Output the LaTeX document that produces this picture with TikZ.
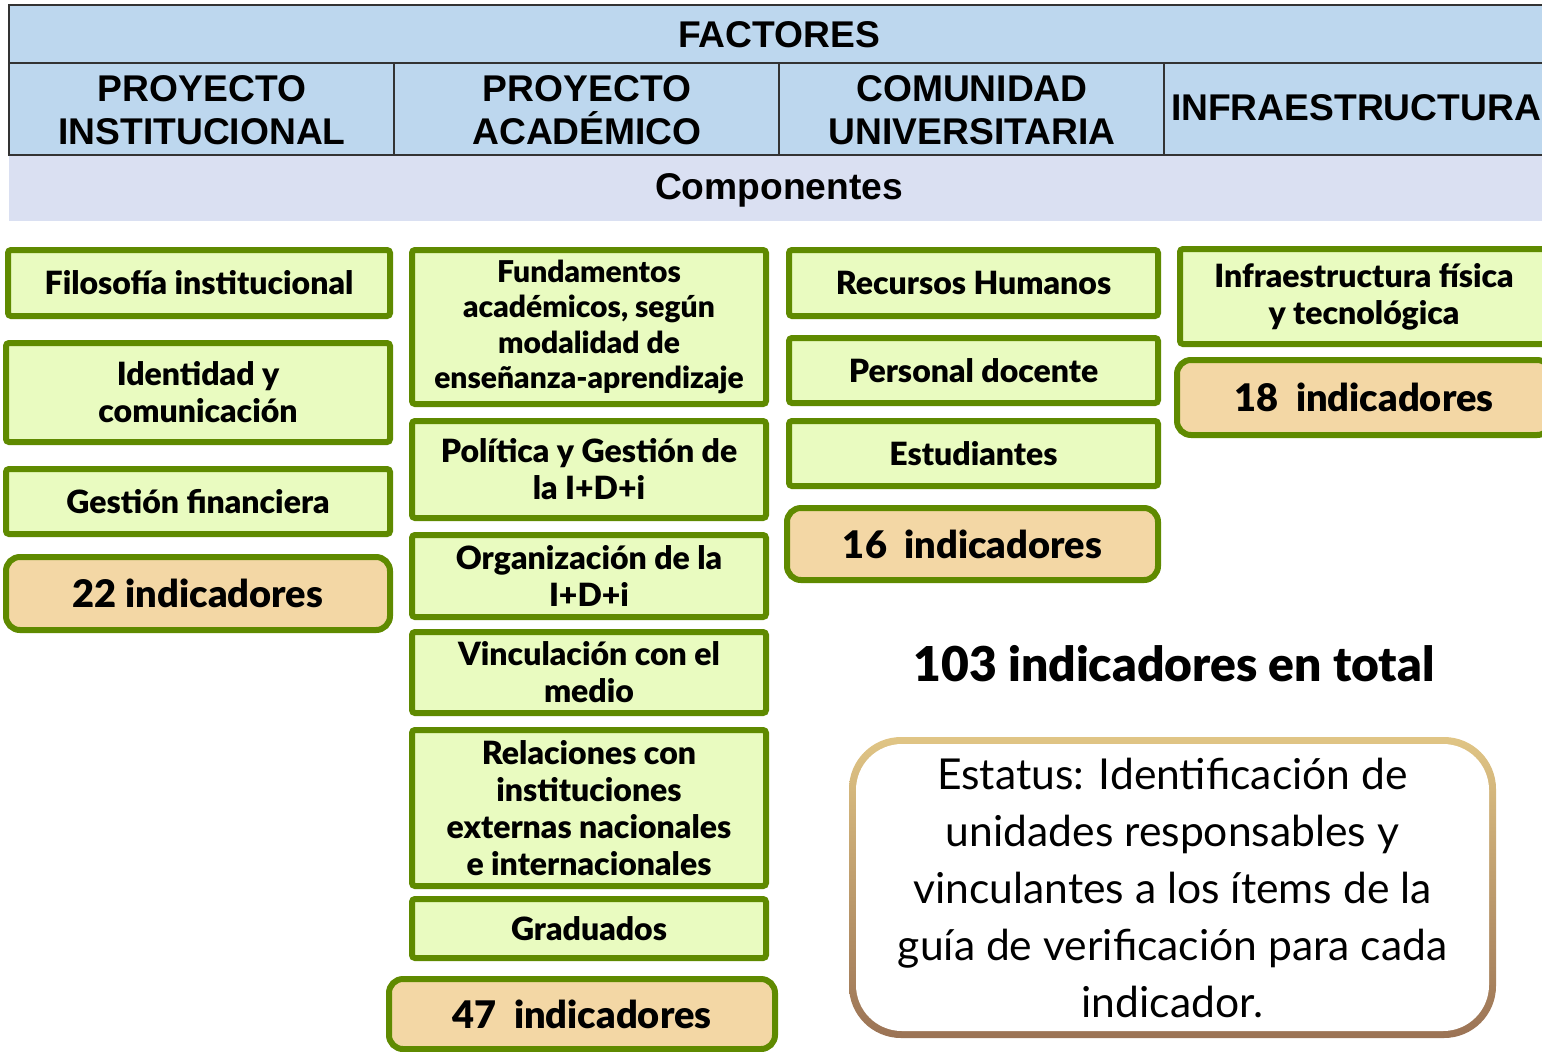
\documentclass[tikz,border=0pt]{standalone}
\usepackage{fontspec}
\setmainfont{Lato}[BoldFont={Lato Black}]
\newfontfamily\hdrfont{Liberation Sans}
\usetikzlibrary{positioning}
\definecolor{hdrblue}{HTML}{BDD7EE}
\definecolor{compband}{HTML}{DAE0F2}
\definecolor{boxgreen}{HTML}{5F8A00}
\definecolor{boxlime}{HTML}{E9FBC0}
\definecolor{boxtan}{HTML}{F3D7A5}
\definecolor{framegold}{HTML}{E0C585}
\definecolor{framebrown}{HTML}{9B7355}
\tikzset{
  hdr/.style={align=center, font=\hdrfont\bfseries\fontsize{18.6}{21.5}\selectfont},
  comp/.style={draw=boxgreen, fill=boxlime, line width=3pt, rounded corners=1.5pt,
    align=center, inner sep=0pt, font=\bfseries\fontsize{16}{18.5}\selectfont},
  total/.style={comp, fill=boxtan, rounded corners=7pt,
    font=\bfseries\fontsize{19}{20}\selectfont},
}

\begin{document}
\begin{tikzpicture}[x=0.5pt,y=-0.5pt]
  \clip (0,0) rectangle (1542,1051);
  %%%%% HEADER %%%%%
  \fill[hdrblue] (9,5) rectangle (1560,155);
  \fill[compband] (9,155) rectangle (1560,221);
  \draw[line width=0.8pt, black!80] (9,5) rectangle (1560,155);
  \draw[line width=0.8pt, black!80] (9,63) -- (1560,63);
  \foreach \x in {394,779,1164}
    \draw[line width=0.8pt, black!80] (\x,63) -- (\x,155);

  \node[hdr] (factores) at (779,35) {FACTORES};
  \node[hdr] (instit) at (202,110) {PROYECTO\\INSTITUCIONAL};
  \node[hdr] (academ) at (587,110) {PROYECTO\\ACAD\'EMICO};
  \node[hdr] (comuni) at (972,110) {COMUNIDAD\\UNIVERSITARIA};
  \node[hdr] (infra) at (1356,108) {INFRAESTRUCTURA};
  \node[hdr] (componentes) at (779,190) {Componentes};

  %%%%% PROYECTO INSTITUCIONAL %%%%%
  \node[comp, minimum width=191pt, minimum height=33pt] (filo) at (199,283) {Filosofía institucional};
  \node[comp, minimum width=192pt, minimum height=49.5pt] (iden) at (198,392.5) {Identidad y\\comunicación};
  \node[comp, minimum width=192pt, minimum height=32.5pt] (gest) at (198,501.5) {Gestión financiera};
  \node[total, minimum width=192pt, minimum height=36.5pt] (ind22) at (198,593.5) {22 indicadores};

  %%%%% PROYECTO ACADEMICO %%%%%
  \node[comp, minimum width=177pt, minimum height=77pt, font=\bfseries\fontsize{15}{17.8}\selectfont] (fund) at (589,327)
    {Fundamentos\\académicos, según\\modalidad de\\enseñanza-aprendizaje};
  \node[comp, minimum width=177pt, minimum height=48.5pt] (poli) at (589,469.5) {Política y Gestión de\\la I+D+i};
  \node[comp, minimum width=177pt, minimum height=41pt] (orga) at (589,576) {Organización de la\\I+D+i};
  \node[comp, minimum width=177pt, minimum height=40.5pt] (vinc) at (589,672.5) {Vinculación con el\\medio};
  \node[comp, minimum width=177pt, minimum height=78pt] (rela) at (589,808)
    {Relaciones con\\instituciones\\externas nacionales\\e internacionales};
  \node[comp, minimum width=177pt, minimum height=29.5pt] (grad) at (589,928.5) {Graduados};
  \node[total, minimum width=193pt, minimum height=35pt] (ind47) at (582,1014) {47\ \ indicadores};

  %%%%% COMUNIDAD UNIVERSITARIA %%%%%
  \node[comp, minimum width=184.5pt, minimum height=33pt] (recu) at (973.5,283) {Recursos Humanos};
  \node[comp, minimum width=184.5pt, minimum height=32.5pt] (pers) at (973.5,370.5) {Personal docente};
  \node[comp, minimum width=184.5pt, minimum height=32.5pt] (estu) at (973.5,453.5) {Estudiantes};
  \node[total, minimum width=185.5pt, minimum height=36pt] (ind16) at (972.5,544) {16\ \ indicadores};

  %%%%% INFRAESTRUCTURA %%%%%
  \node[comp, minimum width=184pt, minimum height=47.5pt] (fisi) at (1364,296.5) {Infraestructura física\\y tecnológica};
  \node[total, minimum width=187pt, minimum height=37.5pt] (ind18) at (1364,397.5) {18\ \ indicadores};

  %%%%% TOTAL Y ESTATUS %%%%%
  \node[font=\bfseries\fontsize{24}{28}\selectfont] (total) at (1174,664) {103 indicadores en total};
  \shade[top color=framegold, bottom color=framebrown, rounded corners=26pt]
    (849,737) rectangle (1496,1038);
  \node[fill=white, rounded corners=23pt, minimum width=316.5pt, minimum height=143.5pt,
    align=center, inner sep=0pt, font=\fontsize{21.3}{28.5}\selectfont] (status) at (1172.5,887.5)
    {Estatus: Identificación de\\unidades responsables y\\vinculantes a los ítems de la\\guía de verificación para cada\\indicador.};
\end{tikzpicture}
\end{document}
